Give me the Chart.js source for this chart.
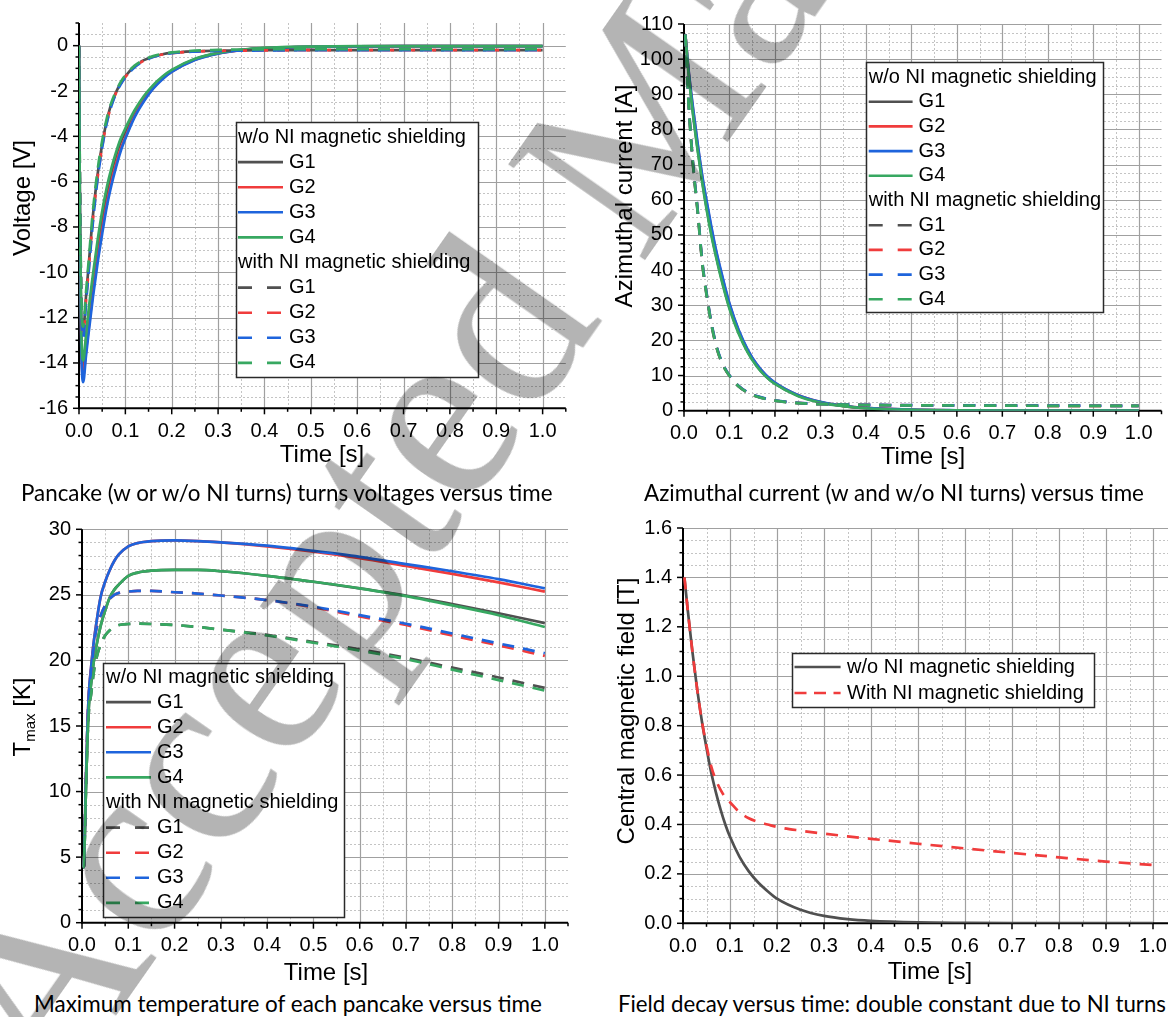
<!DOCTYPE html>
<html><head><meta charset="utf-8">
<script src="https://cdn.jsdelivr.net/npm/chart.js@4.4.1/dist/chart.umd.min.js"></script>
<style>
html,body{margin:0;padding:0;background:#fff;}
body{width:1168px;height:1017px;overflow:hidden;position:relative;}
canvas{position:absolute;}
.cap{position:absolute;font-family:Lato,'Open Sans',sans-serif;font-size:20px;color:#000;white-space:nowrap;line-height:1.2;}
#wm{position:absolute;font-family:'Liberation Serif',serif;font-size:255px;line-height:255px;color:#b4b4b4;white-space:nowrap;mix-blend-mode:multiply;transform-origin:0 213px;transform:rotate(-55deg);pointer-events:none;}
</style></head><body>
<canvas id="c1" width="580" height="470" style="left:0;top:0"></canvas>
<canvas id="c2" width="588" height="470" style="left:580px;top:0"></canvas>
<canvas id="c3" width="580" height="480" style="left:0;top:505px"></canvas>
<canvas id="c4" width="620" height="480" style="left:580px;top:505px"></canvas>
<div class="cap" id="cap1" data-x0="21" data-x1="553" data-yc="493">Pancake (w or w/o NI turns) turns voltages versus time</div>
<div class="cap" id="cap2" data-x0="644" data-x1="1144" data-yc="493">Azimuthal current (w and w/o NI turns) versus time</div>
<div class="cap" id="cap3" data-x0="34" data-x1="542" data-yc="1004">Maximum temperature of each pancake versus time</div>
<div class="cap" id="cap4" data-x0="618" data-x1="1166" data-yc="1004">Field decay versus time: double constant due to NI turns</div>
<div id="wm" style="left:52px;top:894px">Accepted Manuscript</div>
<script>
// ---------------- DATA ----------------
const xTickVals = [0, 0.1, 0.2, 0.3, 0.4, 0.5, 0.6, 0.7, 0.8, 0.9, 1.0];
const groupLabels = ['G1', 'G2', 'G3', 'G4'];
const headerWithout = 'w/o NI magnetic shielding';
const headerWith = 'with NI magnetic shielding';

// Panel 1: turn voltages [V]
const yTicks1 = [-16, -14, -12, -10, -8, -6, -4, -2, 0];
const tV = [0, 0.002, 0.005, 0.009, 0.015, 0.02, 0.03, 0.04, 0.05, 0.06, 0.07, 0.08, 0.09, 0.1, 0.12, 0.14, 0.16, 0.18, 0.2, 0.25, 0.3, 0.35, 0.4, 0.5, 0.6, 0.7, 0.8, 0.9, 1.0];
const vG1 = [0, -7.7, -12.8, -14.2, -13.1, -12.1, -10.4, -8.9, -7.6, -6.5, -5.6, -4.85, -4.25, -3.8, -2.95, -2.3, -1.8, -1.4, -1.1, -0.6, -0.33, -0.19, -0.11, -0.05, -0.03, -0.02, -0.02, -0.02, -0.02];
const vG2 = [0, -7.9, -13.1, -14.6, -13.5, -12.6, -10.9, -9.4, -8.1, -6.95, -6.0, -5.2, -4.55, -4.05, -3.1, -2.4, -1.87, -1.45, -1.14, -0.62, -0.34, -0.2, -0.12, -0.05, -0.03, -0.02, -0.02, -0.02, -0.02];
const vG3 = [0, -8.0, -13.3, -14.85, -13.7, -12.8, -11.1, -9.6, -8.3, -7.1, -6.15, -5.35, -4.65, -4.1, -3.15, -2.45, -1.9, -1.48, -1.16, -0.63, -0.35, -0.2, -0.12, -0.05, -0.03, -0.02, -0.02, -0.02, -0.02];
const vG4 = [0, -7.5, -12.5, -13.9, -12.8, -11.8, -10.1, -8.6, -7.3, -6.25, -5.4, -4.7, -4.1, -3.65, -2.85, -2.22, -1.74, -1.36, -1.07, -0.58, -0.32, -0.18, -0.1, -0.04, -0.02, -0.02, -0.02, -0.02, -0.02];
const dvG1 = [0, -6.2, -11.2, -12.6, -11.1, -9.9, -7.5, -5.7, -4.35, -3.3, -2.55, -2.05, -1.65, -1.35, -0.9, -0.64, -0.48, -0.38, -0.32, -0.25, -0.22, -0.21, -0.2, -0.2, -0.2, -0.2, -0.2, -0.2, -0.2];
const dvG2 = [0, -6.4, -11.4, -12.8, -11.3, -10.1, -7.7, -5.85, -4.45, -3.38, -2.62, -2.08, -1.68, -1.38, -0.93, -0.66, -0.49, -0.39, -0.33, -0.26, -0.23, -0.22, -0.21, -0.2, -0.2, -0.2, -0.2, -0.2, -0.2];
const dvG3 = [0, -6.5, -11.5, -12.9, -11.4, -10.2, -7.8, -5.9, -4.5, -3.4, -2.65, -2.1, -1.7, -1.4, -0.95, -0.68, -0.5, -0.4, -0.33, -0.26, -0.23, -0.22, -0.21, -0.2, -0.2, -0.2, -0.2, -0.2, -0.2];
const dvG4 = [0, -6.0, -11.0, -12.4, -10.9, -9.7, -7.3, -5.5, -4.2, -3.2, -2.5, -2.0, -1.6, -1.3, -0.88, -0.62, -0.46, -0.37, -0.3, -0.22, -0.19, -0.17, -0.16, -0.15, -0.15, -0.15, -0.15, -0.15, -0.15];

// Panel 2: azimuthal current [A]
const yTicks2 = [0, 10, 20, 30, 40, 50, 60, 70, 80, 90, 100, 110];
const tI = [0.003, 0.01, 0.02, 0.03, 0.04, 0.05, 0.06, 0.07, 0.08, 0.09, 0.1, 0.12, 0.14, 0.16, 0.18, 0.2, 0.25, 0.3, 0.35, 0.4, 0.5, 0.6, 0.7, 0.8, 0.9, 1.0];
const iG1 = [107, 96.3, 84.5, 74.5, 65.5, 57.5, 50.5, 44.4, 38.9, 33.9, 29.4, 22.3, 16.8, 12.8, 9.8, 7.7, 4.3, 2.35, 1.32, 0.72, 0.26, 0.1, 0.04, 0.03, 0.02, 0.02];
const iG2 = [107, 96.8, 85.6, 75.6, 66.6, 59, 52, 45.6, 40.1, 35, 30.3, 22.8, 17.2, 13.1, 10.1, 7.9, 4.45, 2.45, 1.38, 0.78, 0.29, 0.11, 0.05, 0.03, 0.02, 0.02];
const iG3 = [107, 97, 86, 76, 67, 59.5, 52.5, 46, 40.5, 35.3, 30.5, 23, 17.4, 13.2, 10.2, 8.0, 4.5, 2.5, 1.4, 0.8, 0.3, 0.12, 0.05, 0.03, 0.02, 0.02];
const iG4 = [107, 96, 84, 74, 65, 57, 50, 44, 38.5, 33.5, 29, 22, 16.6, 12.6, 9.7, 7.6, 4.2, 2.3, 1.3, 0.7, 0.25, 0.1, 0.04, 0.03, 0.02, 0.02];
const diG1 = [107, 87.5, 69.5, 56.5, 42, 32.5, 24.6, 18.7, 14.6, 11.9, 9.9, 6.9, 5.15, 4.05, 3.35, 2.85, 2.15, 1.85, 1.72, 1.62, 1.52, 1.47, 1.43, 1.4, 1.38, 1.35];
const diG2 = [107, 88, 70, 57, 42.5, 33, 25, 19, 14.8, 12, 10, 7.0, 5.2, 4.1, 3.4, 2.9, 2.2, 1.9, 1.75, 1.65, 1.55, 1.5, 1.45, 1.4, 1.4, 1.35];
const diG3 = [107, 88.2, 70.3, 57.3, 42.8, 33.2, 25.2, 19.2, 15, 12.1, 10.1, 7.1, 5.25, 4.15, 3.45, 2.95, 2.25, 1.92, 1.77, 1.67, 1.57, 1.52, 1.47, 1.43, 1.41, 1.38];
const diG4 = [107, 87.7, 69.7, 56.7, 42.2, 32.7, 24.8, 18.8, 14.7, 11.9, 9.95, 6.95, 5.15, 4.05, 3.35, 2.85, 2.15, 1.85, 1.72, 1.62, 1.52, 1.48, 1.43, 1.4, 1.38, 1.35];

// Panel 3: maximum temperature [K]
const yTicks3 = [0, 5, 10, 15, 20, 25, 30];
const tT = [0.002, 0.004, 0.006, 0.008, 0.01, 0.012, 0.015, 0.02, 0.025, 0.03, 0.04, 0.05, 0.06, 0.07, 0.08, 0.1, 0.12, 0.15, 0.2, 0.25, 0.3, 0.4, 0.5, 0.6, 0.7, 0.8, 0.9, 1.0];
const tG1 = [4.2, 4.3, 6.5, 9.5, 12, 14.2, 16.6, 18.3, 19.8, 20.9, 22.6, 23.8, 24.8, 25.4, 25.8, 26.45, 26.7, 26.85, 26.9, 26.9, 26.8, 26.45, 26.0, 25.5, 24.95, 24.3, 23.6, 22.85];
const tG2 = [4.2, 4.3, 7, 10.2, 12.8, 15.2, 17.6, 19.6, 21.3, 22.6, 24.8, 26.0, 26.9, 27.6, 28.1, 28.7, 28.95, 29.1, 29.15, 29.1, 29.0, 28.7, 28.3, 27.8, 27.2, 26.6, 25.95, 25.25];
const tG3 = [4.2, 4.3, 7, 10.2, 12.8, 15.2, 17.6, 19.6, 21.3, 22.6, 24.8, 26.0, 26.9, 27.6, 28.1, 28.7, 28.95, 29.1, 29.15, 29.1, 29.0, 28.75, 28.35, 27.9, 27.35, 26.8, 26.2, 25.5];
const tG4 = [4.2, 4.3, 6.5, 9.5, 12, 14.2, 16.6, 18.3, 19.8, 20.9, 22.6, 23.8, 24.8, 25.4, 25.8, 26.45, 26.7, 26.85, 26.9, 26.9, 26.8, 26.45, 26.0, 25.5, 24.9, 24.2, 23.45, 22.55];
const dtG1 = [4.2, 4.3, 6.5, 9.5, 12, 14.2, 16.2, 17.5, 19.0, 20.0, 21.2, 21.9, 22.3, 22.55, 22.7, 22.78, 22.8, 22.78, 22.7, 22.55, 22.35, 21.95, 21.4, 20.85, 20.2, 19.45, 18.7, 17.9];
const dtG2 = [4.2, 4.3, 7, 10.2, 12.8, 15.2, 17.4, 19.3, 20.9, 22.2, 23.4, 24.2, 24.7, 25.0, 25.15, 25.25, 25.3, 25.3, 25.2, 25.1, 24.95, 24.6, 24.05, 23.35, 22.7, 21.9, 21.15, 20.35];
const dtG3 = [4.2, 4.3, 7, 10.2, 12.8, 15.2, 17.4, 19.3, 20.9, 22.2, 23.4, 24.2, 24.7, 25.0, 25.15, 25.25, 25.3, 25.3, 25.2, 25.1, 24.95, 24.6, 24.1, 23.45, 22.8, 22.05, 21.3, 20.55];
const dtG4 = [4.2, 4.3, 6.5, 9.5, 12, 14.2, 16.2, 17.5, 19.0, 20.0, 21.2, 21.9, 22.3, 22.55, 22.7, 22.78, 22.8, 22.78, 22.7, 22.55, 22.35, 21.9, 21.35, 20.75, 20.1, 19.3, 18.5, 17.7];

// Panel 4: central magnetic field [T]
const yTicks4 = [0, 0.2, 0.4, 0.6, 0.8, 1.0, 1.2, 1.4, 1.6];
const tB = [0.003, 0.01, 0.02, 0.03, 0.04, 0.05, 0.06, 0.07, 0.08, 0.09, 0.1, 0.12, 0.14, 0.16, 0.18, 0.2, 0.25, 0.3, 0.35, 0.4, 0.5, 0.6, 0.7, 0.8, 0.9, 1.0];
const bWithout = [1.40, 1.27, 1.10, 0.95, 0.82, 0.71, 0.61, 0.53, 0.46, 0.40, 0.35, 0.27, 0.21, 0.165, 0.13, 0.10, 0.055, 0.03, 0.017, 0.01, 0.004, 0.002, 0.001, 0.001, 0.001, 0.001];
const bWith = [1.40, 1.27, 1.10, 0.95, 0.82, 0.72, 0.635, 0.58, 0.54, 0.51, 0.49, 0.45, 0.425, 0.41, 0.40, 0.39, 0.375, 0.363, 0.352, 0.342, 0.322, 0.303, 0.285, 0.267, 0.25, 0.236];
const labels4 = ['w/o NI magnetic shielding', 'With NI magnetic shielding'];

// ---------------- STYLE ----------------
const FONT = "'Liberation Sans', Arial, sans-serif";
const COLORS = ['#505050', '#f03c3c', '#1e64dc', '#37a861'];
const DASH = [12, 9];

function ds(label, color, xs, ys, dashed, order) {
  return {
    label, order, data: xs.map((t, i) => ({x: t, y: ys[i]})),
    borderColor: color, backgroundColor: color, borderWidth: 2.7,
    borderDash: dashed ? DASH : [], pointRadius: 0, fill: false,
    cubicInterpolationMode: 'monotone'
  };
}
function stepsOf(min, max, step) {
  const out = []; const n = Math.round((max - min) / step);
  for (let i = 0; i <= n; i++) out.push(min + i * step);
  return out;
}
function seg(ctx, x0, y0, x1, y1) { ctx.beginPath(); ctx.moveTo(x0, y0); ctx.lineTo(x1, y1); ctx.stroke(); }

const originStyle = {
  id: 'originStyle',
  beforeDatasetsDraw(chart, args, o) {
    const ctx = chart.ctx, a = chart.chartArea, xs = chart.scales.x, ys = chart.scales.y;
    const isMaj = (v, arr) => arr.some(m => Math.abs(m - v) < 1e-6);
    ctx.save();
    ctx.lineWidth = 1;
    ctx.strokeStyle = '#c4c4c4'; ctx.setLineDash([2, 2]);
    stepsOf(xs.min, xs.max, o.xMinor).forEach(v => {
      if (isMaj(v, o.xMajor) || v <= xs.min + 1e-9 || v >= xs.max - 1e-9) return;
      const p = Math.round(xs.getPixelForValue(v)) + 0.5; seg(ctx, p, a.top, p, a.bottom);
    });
    stepsOf(ys.min, ys.max, o.yMinor).forEach(v => {
      if (isMaj(v, o.yMajor) || v <= ys.min + 1e-9 || v >= ys.max - 1e-9) return;
      const p = Math.round(ys.getPixelForValue(v)) + 0.5; seg(ctx, a.left, p, a.right, p);
    });
    ctx.setLineDash([]); ctx.strokeStyle = '#a0a0a0'; ctx.lineWidth = 1.2;
    o.xMajor.forEach(v => { if (v <= xs.min + 1e-9) return; const p = Math.round(xs.getPixelForValue(v)) + 0.5; seg(ctx, p, a.top, p, a.bottom); });
    o.yMajor.forEach(v => { if (v <= ys.min + 1e-9) return; const p = Math.round(ys.getPixelForValue(v)) + 0.5; seg(ctx, a.left, p, a.right, p); });
    ctx.strokeStyle = '#000'; ctx.lineWidth = 2;
    seg(ctx, a.left, a.top, a.left, a.bottom + 1);
    seg(ctx, a.left - 1, a.bottom, a.right, a.bottom);
    ctx.lineWidth = 1.5;
    stepsOf(xs.min, xs.max, o.xMinor).forEach(v => {
      const p = xs.getPixelForValue(v); const L = isMaj(v, o.xMajor) ? 6 : 3.5; seg(ctx, p, a.bottom, p, a.bottom + L);
    });
    stepsOf(ys.min, ys.max, o.yMinor).forEach(v => {
      const p = ys.getPixelForValue(v); const L = isMaj(v, o.yMajor) ? 6 : 3.5; seg(ctx, a.left, p, a.left - L, p);
    });
    ctx.restore();
  },
  afterDatasetsDraw(chart, args, o) {
    const ctx = chart.ctx;
    ctx.save();
    ctx.fillStyle = '#000';
    ctx.font = '24px ' + FONT; ctx.textAlign = 'center'; ctx.textBaseline = 'middle';
    ctx.fillText(o.xTitle.text, o.xTitle.x, o.xTitle.y);
    ctx.save(); ctx.translate(o.yTitle.x, o.yTitle.y); ctx.rotate(-Math.PI / 2);
    if (o.yTitle.sub) {
      const main = o.yTitle.text, sub = o.yTitle.sub, rest = o.yTitle.rest;
      ctx.font = '24px ' + FONT; const w1 = ctx.measureText(main).width, w3 = ctx.measureText(rest).width;
      ctx.font = '15px ' + FONT; const w2 = ctx.measureText(sub).width;
      let x = -(w1 + w2 + w3) / 2; ctx.textAlign = 'left'; ctx.textBaseline = 'alphabetic';
      ctx.font = '24px ' + FONT; ctx.fillText(main, x, 8); x += w1;
      ctx.font = '15px ' + FONT; ctx.fillText(sub, x, 13); x += w2;
      ctx.font = '24px ' + FONT; ctx.fillText(rest, x, 8);
    } else {
      ctx.fillText(o.yTitle.text, 0, 0);
    }
    ctx.restore();
    const L = o.legend;
    ctx.fillStyle = '#fff'; ctx.fillRect(L.x, L.y, L.w, L.h);
    ctx.strokeStyle = '#2a2a2a'; ctx.lineWidth = 1.5; ctx.strokeRect(L.x + 0.5, L.y + 0.5, L.w, L.h);
    ctx.font = '20px ' + FONT; ctx.textBaseline = 'middle'; ctx.textAlign = 'left';
    L.rows.forEach((r, i) => {
      const y = L.y + L.first + i * L.rowH;
      ctx.fillStyle = '#000';
      if (typeof r === 'string') { ctx.fillText(r, L.textX, y); return; }
      const d = chart.data.datasets[r];
      ctx.strokeStyle = d.borderColor; ctx.lineWidth = 2.6;
      ctx.setLineDash(d.borderDash && d.borderDash.length ? L.dash : []);
      seg(ctx, L.lineX0, y, L.lineX1, y); ctx.setLineDash([]);
      ctx.fillStyle = '#000'; ctx.fillText(d.label, L.itemX, y);
    });
    ctx.restore();
  }
};

function makeChart(id, cfg) {
  return new Chart(document.getElementById(id), {
    type: 'line',
    data: {datasets: cfg.datasets},
    options: {
      responsive: false, animation: false, devicePixelRatio: 1,
      layout: {padding: cfg.pad},
      plugins: {legend: {display: false}, tooltip: {enabled: false}, originStyle: cfg.style},
      scales: {
        x: {
          type: 'linear', min: 0, max: 1.05,
          afterFit: s => { s.height = cfg.xH; },
          afterBuildTicks: s => { s.ticks = xTickVals.map(v => ({value: v})); },
          grid: {display: false, drawTicks: false}, border: {display: false},
          ticks: {padding: 11, color: '#000', font: {family: FONT, size: 20}, maxRotation: 0, autoSkip: false, callback: v => Number(v).toFixed(1)}
        },
        y: {
          type: 'linear', min: cfg.yMin, max: cfg.yMax,
          afterFit: s => { s.width = cfg.yW; },
          afterBuildTicks: s => { s.ticks = cfg.yTicks.map(v => ({value: v})); },
          grid: {display: false, drawTicks: false}, border: {display: false},
          ticks: {padding: 11, color: '#000', font: {family: FONT, size: 20}, autoSkip: false, callback: cfg.yFmt}
        }
      }
    },
    plugins: [originStyle]
  });
}

const legendRows8 = [headerWithout, 0, 1, 2, 3, headerWith, 4, 5, 6, 7];
function eight(xs, s1, s2, s3, s4, d1, d2, d3, d4) {
  const sol = [s1, s2, s3, s4], das = [d1, d2, d3, d4];
  const out = [];
  sol.forEach((s, i) => out.push(ds(groupLabels[i], COLORS[i], xs, s, false, 20 - i)));
  das.forEach((s, i) => out.push(ds(groupLabels[i], COLORS[i], xs, s, true, 10 - i)));
  return out;
}

makeChart('c1', {
  datasets: eight(tV, vG1, vG2, vG3, vG4, dvG1, dvG2, dvG3, dvG4),
  pad: {left: 0, top: 14, right: 14.2, bottom: 0}, xH: 61.7, yW: 79,
  yMin: -16, yMax: 1, yTicks: yTicks1, yFmt: v => String(v),
  style: {xMajor: xTickVals, xMinor: 0.05, yMajor: yTicks1, yMinor: 0.5,
    xTitle: {text: 'Time [s]', x: 322, y: 455}, yTitle: {text: 'Voltage [V]', x: 23, y: 198},
    legend: {x: 236, y: 122, w: 242, h: 255, first: 15, rowH: 25.1, textX: 238, lineX0: 238, lineX1: 283, itemX: 289, dash: [14, 15], rows: legendRows8}}
});
makeChart('c2', {
  datasets: eight(tI, iG1, iG2, iG3, iG4, diG1, diG2, diG3, diG4),
  pad: {left: 0, top: 24, right: 6.5, bottom: 0}, xH: 59.3, yW: 104,
  yMin: 0, yMax: 110, yTicks: yTicks2, yFmt: v => String(v),
  style: {xMajor: xTickVals, xMinor: 0.05, yMajor: yTicks2, yMinor: 2.5,
    xTitle: {text: 'Time [s]', x: 343, y: 457}, yTitle: {text: 'Azimuthal current [A]', x: 45, y: 196},
    legend: {x: 286, y: 62, w: 237, h: 250, first: 15, rowH: 24.7, textX: 288.7, lineX0: 288.7, lineX1: 332.6, itemX: 338.6, dash: [14, 15], rows: legendRows8}}
});
makeChart('c3', {
  datasets: eight(tT, tG1, tG2, tG3, tG4, dtG1, dtG2, dtG3, dtG4),
  pad: {left: 0, top: 24.3, right: 12, bottom: 0}, xH: 62.3, yW: 82,
  yMin: 0, yMax: 30, yTicks: yTicks3, yFmt: v => String(v),
  style: {xMajor: xTickVals, xMinor: 0.05, yMajor: yTicks3, yMinor: 1,
    xTitle: {text: 'Time [s]', x: 326, y: 468}, yTitle: {text: 'T', sub: 'max', rest: ' [K]', x: 22, y: 212},
    legend: {x: 103, y: 158, w: 241, h: 254, first: 14, rowH: 25.1, textX: 106, lineX0: 106, lineX1: 151, itemX: 157, dash: [14, 15], rows: legendRows8}}
});
makeChart('c4', {
  datasets: [ds(labels4[0], COLORS[0], tB, bWithout, false, 2), ds(labels4[1], COLORS[1], tB, bWith, true, 1)],
  pad: {left: 0, top: 19, right: 23.5, bottom: 0}, xH: 61.7, yW: 103,
  yMin: 0, yMax: 1.6, yTicks: yTicks4, yFmt: v => Number(v).toFixed(1),
  style: {xMajor: xTickVals, xMinor: 0.05, yMajor: yTicks4, yMinor: 0.05,
    xTitle: {text: 'Time [s]', x: 350, y: 467}, yTitle: {text: 'Central magnetic field [T]', x: 47, y: 206},
    legend: {x: 212, y: 148, w: 302, h: 54, first: 14, rowH: 26, textX: 267, lineX0: 214.5, lineX1: 260.6, itemX: 267, dash: [12, 7.5], rows: [0, 1]}}
});

document.querySelectorAll('.cap').forEach(el => {
  const x0 = +el.dataset.x0, x1 = +el.dataset.x1, yc = +el.dataset.yc;
  const w = el.getBoundingClientRect().width;
  const fs = 20 * (x1 - x0) / w;
  el.style.fontSize = fs.toFixed(2) + 'px';
  const h = el.getBoundingClientRect().height;
  el.style.left = x0 + 'px';
  el.style.top = (yc - h / 2) + 'px';
});
</script>
</body></html>
